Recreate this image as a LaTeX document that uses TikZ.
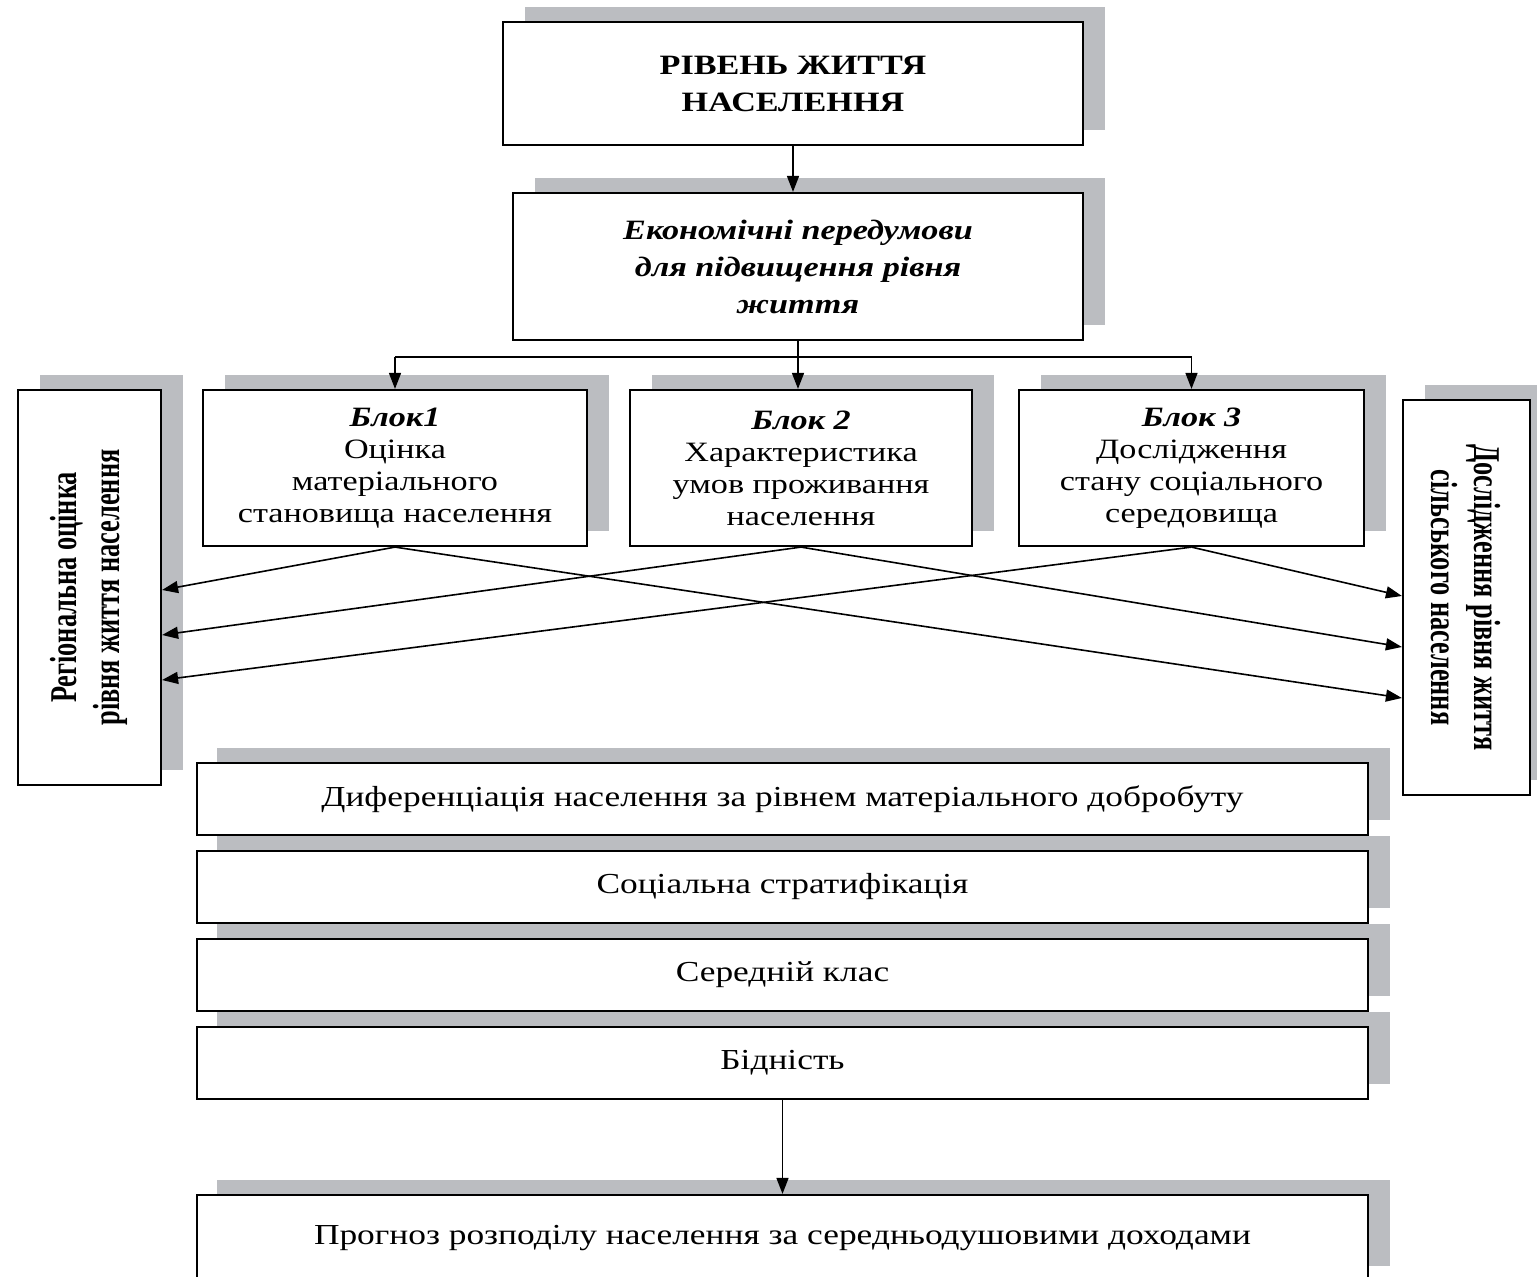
\documentclass[tikz,border=0pt]{standalone}
\usepackage{fontspec}
\setmainfont{Liberation Serif}
\newfontfamily\widefont[FakeStretch=1.22]{Liberation Serif}
\usetikzlibrary{arrows.meta,shadows}
\definecolor{shadowgray}{RGB}{187,189,193}
\newcommand{\vtext}[2]{\scalebox{1}[1.75]{\fontsize{10.8}{12.2}\selectfont\begin{tabular}{@{}c@{}}\textbf{#1}\\\textbf{#2}\end{tabular}}}
\begin{document}
\begin{tikzpicture}[x=0.5pt,y=-0.5pt,
  box/.style={draw, line width=1.1pt, fill=white, rectangle, inner sep=0pt, align=center,
    font=\widefont\fontsize{14}{18.5}\selectfont,
    general shadow={fill=shadowgray, shadow xshift=11pt, shadow yshift=7.5pt}},
  blockbox/.style={box, minimum height=78pt, font=\widefont\fontsize{14}{16}\selectfont},
  rowbox/.style={box, minimum width=585.5pt, minimum height=36pt,
    font=\widefont\fontsize{14.5}{17}\selectfont,
    general shadow={fill=shadowgray, shadow xshift=10pt, shadow yshift=7.5pt}},
  vbox/.style={box, minimum height=197.5pt},
  conn/.style={line width=0.8pt},
  arr/.style={conn, -{Triangle[length=8pt,width=6pt]}}]
\useasboundingbox (0,0) rectangle (1537,1277);
\clip (0,0) rectangle (1537,1277);

% top
\node[box, minimum width=290pt, minimum height=61.5pt] (top) at (793,83.5)
  {\textbf{РІВЕНЬ ЖИТТЯ}\\\textbf{НАСЕЛЕННЯ}};
\node[box, minimum width=285pt, minimum height=73.5pt] (eco) at (798,266.5)
  {\textbf{\textit{Економічні передумови}}\\\textbf{\textit{для підвищення рівня}}\\\textbf{\textit{життя}}};

% blocks
\node[blockbox, minimum width=192pt] (b1) at (395,468)
  {\textbf{\textit{Блок1}}\\Оцінка\\матеріального\\становища населення};
\node[blockbox, minimum width=171pt] (b2) at (801,468)
  {\textbf{\textit{Блок 2}}\\Характеристика\\умов проживання\\населення};
\node[blockbox, minimum width=172.5pt] (b3) at (1191.5,468)
  {\textbf{\textit{Блок 3}}\\Дослідження\\стану соціального\\середовища};

% vertical boxes
\node[vbox, minimum width=71.5pt] (lb) at (89.5,587.5)
  {\rotatebox{90}{\vtext{Регіональна оцінка}{рівня життя населення}}};
\node[vbox, minimum width=63.5pt] (rb) at (1466.5,597.5)
  {\rotatebox{-90}{\vtext{Дослідження рівня життя}{сільського населення}}\hspace*{5pt}};

% rows
\node[rowbox] (ra) at (782.5,799) {Диференціація населення за рівнем матеріального добробуту};
\node[rowbox] (rbx) at (782.5,887) {Соціальна стратифікація};
\node[rowbox] (rc) at (782.5,975) {Середній клас};
\node[rowbox] (rd) at (782.5,1063) {Бідність};
\node[rowbox, minimum height=43pt] (re) at (782.5,1238) {Прогноз розподілу населення за середньодушовими доходами};

% connectors
\draw[arr] (top.south) -- (top.south |- eco.north);
\coordinate (fork) at (eco.south |- 0,357);
\draw[conn] (eco.south) -- (fork);
\draw[conn] (fork -| b1) -- (fork -| b3);
\draw[arr] (fork -| b1) -- (b1.north);
\draw[arr] (fork) -- (fork |- b2.north);
\draw[arr] (fork -| b3) -- (b3.north);

\coordinate (l1) at (lb.east |- 0,590);
\coordinate (l2) at (lb.east |- 0,635);
\coordinate (l3) at (lb.east |- 0,680);
\coordinate (r1) at (rb.west |- 0,596);
\coordinate (r2) at (rb.west |- 0,647);
\coordinate (r3) at (rb.west |- 0,698);
\draw[arr] (b1.south) -- (l1);
\draw[arr] (b2.south) -- (l2);
\draw[arr] (b3.south) -- (l3);
\draw[arr] (b3.south) -- (r1);
\draw[arr] (b2.south) -- (r2);
\draw[arr] (b1.south) -- (r3);

\draw[arr] (rd.south) -- (re.north);
\end{tikzpicture}
\end{document}
